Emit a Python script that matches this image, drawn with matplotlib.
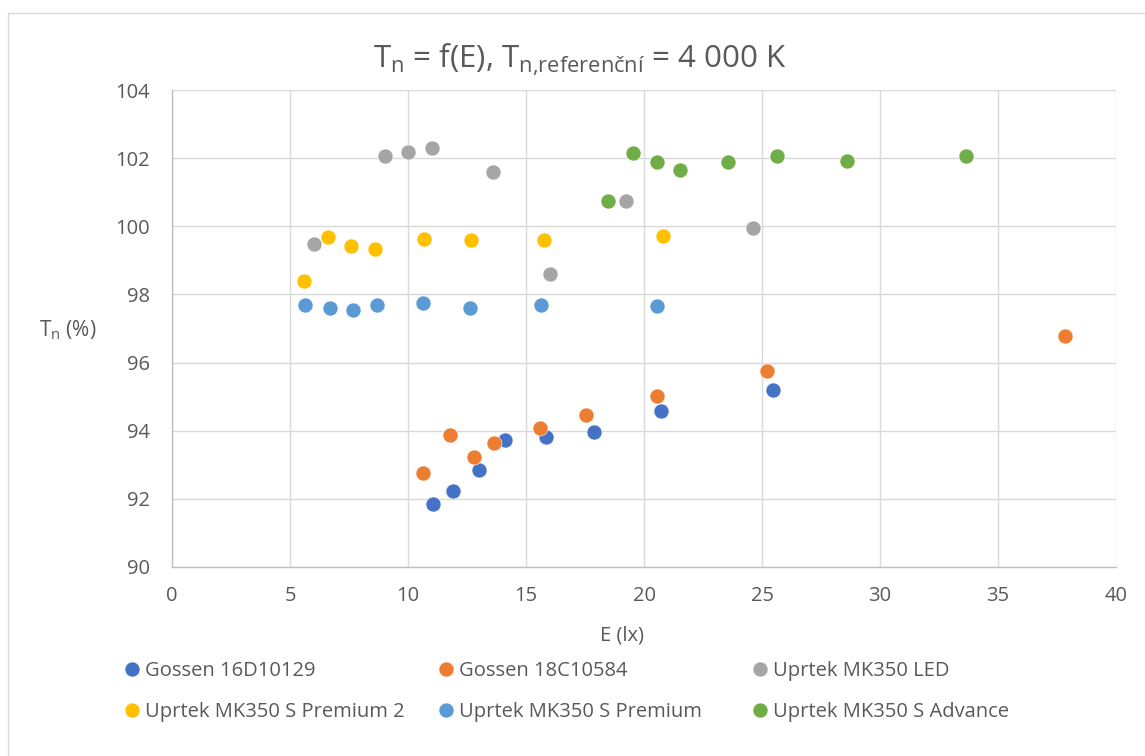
import matplotlib
matplotlib.use("Agg")
import matplotlib.pyplot as plt
from matplotlib.patches import Rectangle

plt.rcParams['font.family'] = ['Open Sans', 'DejaVu Sans']
plt.rcParams['mathtext.fontset'] = 'custom'
plt.rcParams['mathtext.rm'] = 'Open Sans'
plt.rcParams['mathtext.it'] = 'Open Sans'

TXT = '#595959'

# ---- data ----
g16_x = [11.06, 11.91, 13.00, 14.11, 15.86, 17.88, 20.72, 25.48]
g16_y = [91.84, 92.24, 92.85, 93.74, 93.82, 93.96, 94.58, 95.20]

g18_x = [10.65, 11.77, 12.80, 13.64, 15.58, 17.53, 20.56, 25.21, 37.84]
g18_y = [92.76, 93.86, 93.24, 93.64, 94.07, 94.46, 95.03, 95.74, 96.79]

led_x = [6.00, 9.01, 10.01, 11.00, 13.61, 16.02, 19.24, 24.62]
led_y = [99.48, 102.05, 102.17, 102.30, 101.58, 98.59, 100.74, 99.94]

sp2_x = [5.59, 6.61, 7.60, 8.61, 10.66, 12.68, 15.75, 20.79]
sp2_y = [98.40, 99.70, 99.42, 99.32, 99.62, 99.61, 99.61, 99.71]

sp_x = [5.65, 6.69, 7.68, 8.67, 10.65, 12.63, 15.64, 20.54]
sp_y = [97.69, 97.59, 97.55, 97.70, 97.76, 97.59, 97.70, 97.67]

adv_x = [18.46, 19.55, 20.55, 21.54, 23.55, 25.65, 28.59, 33.64]
adv_y = [100.73, 102.15, 101.89, 101.66, 101.88, 102.05, 101.93, 102.06]

series = [
    ("Gossen 16D10129", g16_x, g16_y, '#4472C4'),
    ("Gossen 18C10584", g18_x, g18_y, '#ED7D31'),
    ("Uprtek MK350 LED", led_x, led_y, '#A5A5A5'),
    ("Uprtek MK350 S Premium 2", sp2_x, sp2_y, '#FFC000'),
    ("Uprtek MK350 S Premium", sp_x, sp_y, '#5B9BD5'),
    ("Uprtek MK350 S Advance", adv_x, adv_y, '#70AD47'),
]

x_ticks = [0, 5, 10, 15, 20, 25, 30, 35, 40]
y_ticks = [90, 92, 94, 96, 98, 100, 102, 104]

W, H = 1145, 756
fig = plt.figure(figsize=(W / 100, H / 100), dpi=100)
fig.patch.set_facecolor('white')

# chart-area border
fig.patches.append(Rectangle((7.5 / W, -0.02), 1.05, 1 - 13 / H + 0.02,
                             transform=fig.transFigure, fill=False,
                             edgecolor='#D9D9D9', linewidth=1.0))

ax = fig.add_axes([172 / W, 1 - 567 / H, (1116 - 172) / W, (567 - 90) / H])
handles = []
for name, xs, ys, c in series:
    h, = ax.plot(xs, ys, linestyle='none', marker='o', markersize=10.8,
                 markerfacecolor=c, markeredgecolor='white',
                 markeredgewidth=0.4, label=name, zorder=3)
    handles.append(h)

ax.set_xlim(0, 40)
ax.set_ylim(90, 104)
ax.set_xticks(x_ticks)
ax.set_yticks(y_ticks)
ax.grid(True, color='#D9D9D9', linewidth=1.0, zorder=0)
ax.set_axisbelow(True)
for s in ['top', 'right']:
    ax.spines[s].set_visible(False)
for s in ['left', 'bottom']:
    ax.spines[s].set_color('#BFBFBF')
    ax.spines[s].set_linewidth(1.0)
ax.tick_params(axis='both', length=0, labelsize=14.5, labelcolor=TXT)
ax.tick_params(axis='y', pad=16)
ax.tick_params(axis='x', pad=14)

fig.text(580 / W, 1 - 60 / H,
         r"$\mathregular{T_n}$ = f(E), $\mathregular{T_{n{,}referenční}}$ = 4 000 K",
         ha='center', va='center', fontsize=22.5, color=TXT)
fig.text(68 / W, 1 - 330 / H, r"$\mathregular{T_n}$ (%)", ha='center',
         va='center', fontsize=15, color=TXT)
fig.text(622 / W, 1 - 636 / H, "E (lx)", ha='center', va='center',
         fontsize=14.5, color=TXT)

# legend: three columns of two entries
col_x = [124.5, 438.5, 752.5]
for ci in range(3):
    hs = [handles[ci], handles[ci + 3]]
    leg = fig.legend(handles=hs, loc='upper left',
                     bbox_to_anchor=(col_x[ci] / W, 1 - 661 / H),
                     frameon=False, fontsize=14.5, markerscale=1.0,
                     handlelength=0.745, handletextpad=0.27, labelspacing=1.04,
                     borderaxespad=0, borderpad=0)
    for t in leg.get_texts():
        t.set_color(TXT)

fig.savefig('out.png', dpi=100)
